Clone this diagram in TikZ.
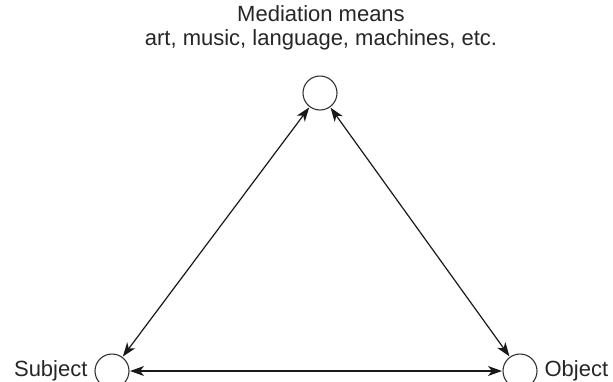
\documentclass[tikz,border=0pt]{standalone}
\usepackage{fontspec}
\setmainfont{Liberation Sans}
\usetikzlibrary{arrows.meta}
\begin{document}
\begin{tikzpicture}[x=1pt,y=-1pt,
  vert/.style={circle,draw=black!80,line width=1.1pt,minimum size=34pt,inner sep=0pt},
  lab/.style={font=\fontsize{22}{26}\selectfont,text=black!85},
  link/.style={{Stealth[length=14pt,width=10pt,inset=4pt]}-{Stealth[length=14pt,width=10pt,inset=4pt]},line width=1.2pt,black!90,shorten <=0.5pt,shorten >=0.5pt}]
\useasboundingbox (0,0) rectangle (613,381);
\clip (0,0) rectangle (613,381);
\node[vert] (m) at (320,93) {};
\node[vert] (s) at (112,371) {};
\node[vert] (o) at (520,371) {};
\node[lab] (t1) at (321,14) {Mediation means};
\node[lab] (t2) at (321,40) {art, music, language, machines, etc.};
\node[lab,anchor=east] (ls) at (91,371) {Subject};
\node[lab,anchor=west] (lo) at (541,371) {Object};
\draw[link] (m) -- (s);
\draw[link] (m) -- (o);
\draw[link] (s) -- (o);
\end{tikzpicture}
\end{document}
